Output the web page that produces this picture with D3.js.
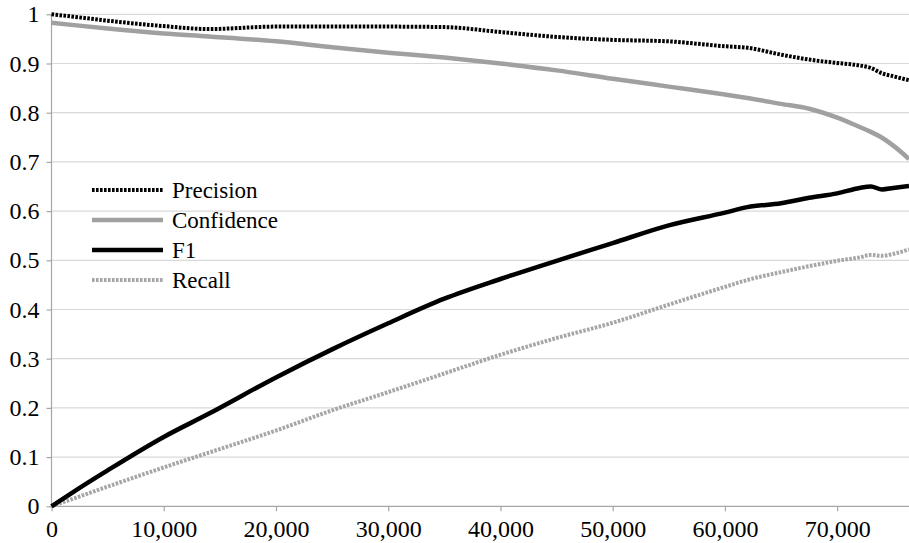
<!DOCTYPE html>
<html>
<head>
<meta charset="utf-8">
<script src="https://cdn.jsdelivr.net/npm/d3@7"></script>
<style>
  body { margin: 0; background: #fff; }
</style>
</head>
<body>
<div id="chart"></div>
<script>
// data
var docs = [0, 2000, 5000, 10000, 14000, 20000, 25000, 30000, 35000, 40000, 45000, 50000,
  55000, 60000, 62000, 65000, 67500, 70000, 72000, 73000, 74000, 75000, 76400];

var precision = [1.0, 0.995, 0.987, 0.976, 0.970, 0.975, 0.975, 0.975, 0.974, 0.964, 0.954, 0.948,
  0.945, 0.935, 0.932, 0.918, 0.908, 0.901, 0.896, 0.891, 0.880, 0.874, 0.866];

var confidence = [0.983, 0.978, 0.971, 0.961, 0.955, 0.945, 0.933, 0.922, 0.912, 0.900, 0.886, 0.869,
  0.853, 0.837, 0.830, 0.818, 0.808, 0.790, 0.771, 0.761, 0.749, 0.733, 0.706];

var f1 = [0, 0.03, 0.073, 0.141, 0.188, 0.262, 0.319, 0.372, 0.422, 0.462, 0.499, 0.535,
  0.571, 0.597, 0.608, 0.616, 0.627, 0.636, 0.647, 0.650, 0.644, 0.647, 0.651];

var recall = [0, 0.016, 0.04, 0.079, 0.109, 0.154, 0.195, 0.232, 0.27, 0.308, 0.342, 0.373,
  0.41, 0.446, 0.46, 0.476, 0.488, 0.499, 0.506, 0.511, 0.509, 0.513, 0.522];

var seriesNames = ["Precision", "Confidence", "F1", "Recall"];

var xTicks = [0, 10000, 20000, 30000, 40000, 50000, 60000, 70000];
var yTicks = [0, 0.1, 0.2, 0.3, 0.4, 0.5, 0.6, 0.7, 0.8, 0.9, 1];

var svgWidth = 909;
var svgHeight = 543;

var margin = { top: 14.3, right: 0, bottom: 36.7, left: 51.5 };
var width = svgWidth - margin.left - margin.right;
var height = svgHeight - margin.top - margin.bottom;

var svg = d3.select("#chart")
  .append("svg")
  .attr("width", svgWidth)
  .attr("height", svgHeight)
  .attr("font-family", "Liberation Serif");

var chartGroup = svg.append("g")
  .attr("transform", `translate(${margin.left}, ${margin.top})`);

var xScale = d3.scaleLinear().domain([0, 76400]).range([0, width]);
var yScale = d3.scaleLinear().domain([0, 1]).range([height, 0]);

// gridlines
chartGroup.append("g")
  .selectAll("line")
  .data(yTicks.filter(d => d > 0))
  .enter()
  .append("line")
  .attr("x1", 0)
  .attr("x2", width)
  .attr("y1", d => yScale(d))
  .attr("y2", d => yScale(d))
  .attr("stroke", "#d9d9d9")
  .attr("stroke-width", 1.2);

// axes
var bottomAxis = d3.axisBottom(xScale)
  .tickValues(xTicks)
  .tickSize(5)
  .tickPadding(9)
  .tickFormat(d3.format(","));

var leftAxis = d3.axisLeft(yScale)
  .tickValues(yTicks)
  .tickSize(5)
  .tickPadding(7)
  .tickFormat(d => d3.format("")(Math.round(d * 10) / 10));

var xAxisG = chartGroup.append("g")
  .attr("transform", `translate(0, ${height})`)
  .call(bottomAxis);

var yAxisG = chartGroup.append("g")
  .call(leftAxis);

[xAxisG, yAxisG].forEach(function(g) {
  g.attr("font-family", "Liberation Serif").attr("font-size", 24);
  g.select(".domain").attr("stroke", "#a6a6a6").attr("stroke-width", 1.2);
  g.selectAll(".tick line").attr("stroke", "#a6a6a6").attr("stroke-width", 1.2);
  g.selectAll(".tick text")
    .attr("font-family", "Liberation Serif")
    .attr("fill", "#000");
});
yAxisG.select(".domain").attr("d", `M0,0V${height}`);
xAxisG.select(".domain").attr("d", `M0,0H${width}`);

// series
var series = [
  { name: seriesNames[0], values: precision, color: "#000", width: 4, dash: "2.6,1.4" },
  { name: seriesNames[1], values: confidence, color: "#a0a0a0", width: 4.5, dash: null },
  { name: seriesNames[2], values: f1, color: "#000", width: 4.5, dash: null },
  { name: seriesNames[3], values: recall, color: "#a6a6a6", width: 4, dash: "2.6,1.4" }
];

var line = d3.line()
  .x((d, i) => xScale(docs[i]))
  .y(d => yScale(d))
  .curve(d3.curveMonotoneX);

// draw recall first, precision last so the dotted ones sit on top
[3, 1, 2, 0].forEach(function(k) {
  var s = series[k];
  chartGroup.append("path")
    .datum(s.values)
    .attr("d", line)
    .attr("fill", "none")
    .attr("stroke", s.color)
    .attr("stroke-width", s.width)
    .attr("stroke-dasharray", s.dash);
});

// legend
var legend = svg.append("g").attr("transform", "translate(92, 190)");
series.forEach(function(s, i) {
  var row = legend.append("g").attr("transform", `translate(0, ${i * 30})`);
  row.append("line")
    .attr("x1", 0)
    .attr("x2", 71)
    .attr("y1", 0)
    .attr("y2", 0)
    .attr("stroke", s.color)
    .attr("stroke-width", s.width)
    .attr("stroke-dasharray", s.dash);
  row.append("text")
    .attr("x", 80)
    .attr("y", 8)
    .attr("font-family", "Liberation Serif")
    .attr("font-size", 23)
    .text(s.name);
});
</script>
</body>
</html>
